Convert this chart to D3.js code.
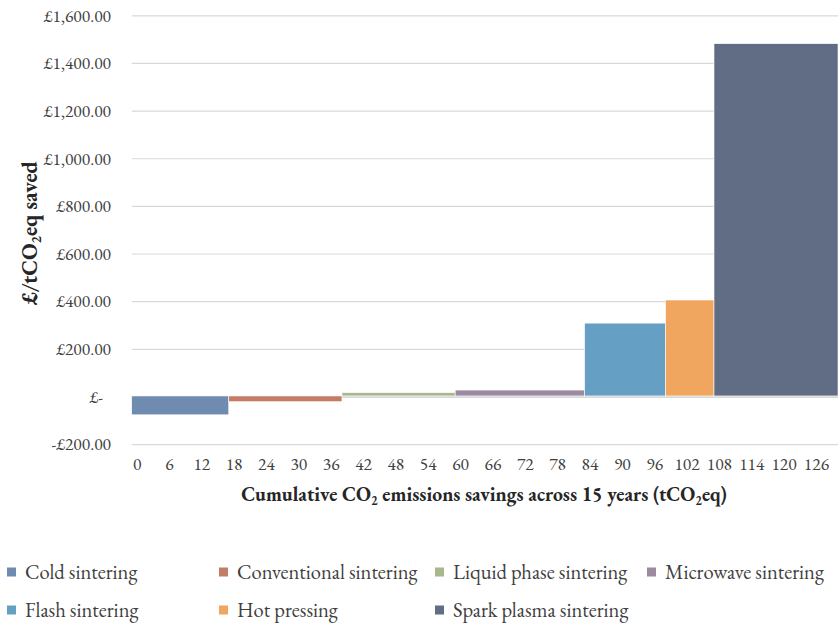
<!DOCTYPE html>
<html><head><meta charset="utf-8">
<script src="https://cdn.jsdelivr.net/npm/d3@7"></script>
<style>body{margin:0;background:#fff}</style>
</head><body><svg id="c" width="838" height="626"></svg>
<script>
const technologies = ["Cold sintering","Conventional sintering","Liquid phase sintering","Microwave sintering","Flash sintering","Hot pressing","Spark plasma sintering"];
const savings = [18, 21, 21, 24, 15, 9, 23];          // tCO2eq (bar widths)
const costs = [-75, -20, 18, 29, 310, 407, 1483];      // £/tCO2eq saved
const colors = ["#6f8bb0","#c47c66","#a9b88c","#9b8aa0","#65a0c4","#f0a65e","#606d85"];
const xTicks = d3.range(0, 127, 6);
const yTicks = [-200, 0, 200, 400, 600, 800, 1000, 1200, 1400, 1600];
const FONT = "'EB Garamond', 'Liberation Serif', serif";

const svg = d3.select("#c");
const x = d3.scaleLinear().domain([0, 131]).range([131.7, 838]);
const y = d3.scaleLinear().domain([-200, 1600]).range([444.6, 15.8]);

svg.append("g").selectAll("line").data(yTicks).join("line")
  .attr("x1", x(0)).attr("x2", 838)
  .attr("y1", d => y(d)).attr("y2", d => y(d))
  .attr("stroke", "#d9d9d9").attr("stroke-width", d => d === 0 ? 2 : 1.2);

const fmt = d => d === 0 ? "£-" : (d < 0 ? "-£" : "£") + d3.format(",.2f")(Math.abs(d));
svg.append("g").selectAll("text").data(yTicks).join("text")
  .style("font-family", FONT)
  .attr("x", d => d === 0 ? 103 : 111).attr("y", d => y(d)).attr("dy", "0.33em")
  .attr("text-anchor", "end").attr("font-size", 17.5).attr("fill", "#404040")
  .text(fmt);

let cum = 0;
const bars = technologies.map((t, i) => { const b = {t, x0: cum, x1: cum + savings[i], v: costs[i], c: colors[i]}; cum += savings[i]; return b; });
svg.append("g").selectAll("rect").data(bars).join("rect")
  .attr("x", d => x(d.x0)).attr("width", d => x(d.x1) - x(d.x0))
  .attr("y", d => Math.min(y(d.v), y(0) - 1)).attr("height", d => Math.abs(y(d.v) - (y(0) - 1)))
  .attr("fill", d => d.c).attr("stroke", "#fff").attr("stroke-width", 0.6);

svg.append("g").selectAll("text").data(xTicks).join("text")
  .style("font-family", FONT)
  .attr("x", d => x(d + 1)).attr("y", 470)
  .attr("text-anchor", "middle").attr("font-size", 17.5).attr("fill", "#404040")
  .text(d => d);

const xt = svg.append("text").style("font-family", FONT).attr("x", 484).attr("y", 501).attr("text-anchor", "middle")
  .attr("font-size", 19.7).attr("font-weight", "bold").attr("fill", "#262626");
xt.append("tspan").text("Cumulative CO");
xt.append("tspan").attr("font-size", 12.5).attr("dy", 4).text("2");
xt.append("tspan").attr("dy", -4).text(" emissions savings across 15 years (tCO");
xt.append("tspan").attr("font-size", 12.5).attr("dy", 4).text("2");
xt.append("tspan").attr("dy", -4).text("eq)");

const yt = svg.append("text").style("font-family", FONT).attr("transform", "translate(37,233) rotate(-90)").attr("text-anchor", "middle")
  .attr("font-size", 22).attr("font-weight", "bold").attr("fill", "#262626");
yt.append("tspan").text("£/tCO");
yt.append("tspan").attr("font-size", 14).attr("dy", 4).text("2");
yt.append("tspan").attr("dy", -4).text("eq saved");

const legX = [7, 219, 435, 647];
const lg = svg.append("g").selectAll("g").data(technologies).join("g")
  .attr("transform", (d, i) => `translate(${legX[i % 4]},${i < 4 ? 572 : 610})`);
lg.append("rect").attr("x", 0).attr("y", -4.5).attr("width", 9).attr("height", 9).attr("fill", (d, i) => colors[i]);
lg.append("text").style("font-family", FONT).attr("x", 18).attr("dy", "0.33em").attr("font-size", 20.5).attr("fill", "#404040").text(d => d);
</script></body></html>
